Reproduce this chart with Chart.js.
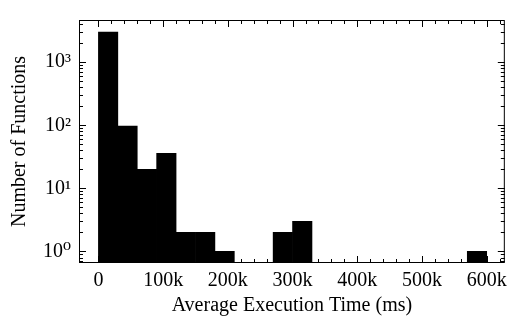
<!DOCTYPE html>
<html>
<head>
<meta charset="utf-8">
<script src="https://cdn.jsdelivr.net/npm/chart.js@4"></script>
<style>
  body { margin: 0; background: #fff; }
  #wrap { width: 513px; height: 321px; }
</style>
</head>
<body>
<div id="wrap"><canvas id="hist"></canvas></div>
<script>
// histogram bins (left edge, ms) and counts per bin; null = empty bin
const binLeft = [0, 30000, 60000, 90000, 120000, 150000, 180000, 210000, 240000, 270000,
  300000, 330000, 360000, 390000, 420000, 450000, 480000, 510000, 540000, 570000];
const binWidth = 30000;
const counts = [3000, 97, 20, 36, 2, 2, 1, null, null, 2,
  3, null, null, null, null, null, null, null, null, 1];
const xTicks = [0, 100000, 200000, 300000, 400000, 500000, 600000];
const yTicks = [1, 10, 100, 1000];
const sup = ["⁰", "¹", "²", "³"];

Chart.defaults.font.family = "'Liberation Serif', 'DejaVu Serif', serif";
Chart.defaults.color = "#000";

// frame with inward ticks on all four sides
const frameTicks = {
  id: "frameTicks",
  afterDraw(chart) {
    const { ctx, chartArea: a, scales } = chart;
    const x = scales.x, y = scales.y;
    ctx.save();
    ctx.strokeStyle = "#000";
    ctx.lineWidth = 1;
    ctx.beginPath();
    const vmark = (v, len) => {
      const px = Math.round(x.getPixelForValue(v)) + 0.5;
      ctx.moveTo(px, a.bottom); ctx.lineTo(px, a.bottom - len);
      ctx.moveTo(px, a.top); ctx.lineTo(px, a.top + len);
    };
    const hmark = (v, len) => {
      const py = Math.round(y.getPixelForValue(v)) + 0.5;
      ctx.moveTo(a.left, py); ctx.lineTo(a.left + len, py);
      ctx.moveTo(a.right, py); ctx.lineTo(a.right - len, py);
    };
    for (let v = 0; v <= x.max; v += 20000) {
      vmark(v, v % 100000 === 0 ? 7 : 4);
    }
    for (let d = 0.1; d < y.max; d *= 10) {
      for (let m = 1; m < 10; m++) {
        const v = d * m;
        if (v >= y.min && v <= y.max) hmark(v, m === 1 ? 7 : 4);
      }
    }
    ctx.stroke();
    ctx.strokeRect(a.left + 0.5, a.top + 0.5, a.right - a.left - 1, a.bottom - a.top - 1);
    ctx.restore();
  }
};

new Chart(document.getElementById("hist"), {
  type: "bar",
  data: {
    datasets: [{
      data: binLeft.map((b, i) => ({ x: b + binWidth / 2, y: counts[i] })),
      backgroundColor: "#000",
      borderWidth: 0,
      barPercentage: 1,
      categoryPercentage: 1
    }]
  },
  options: {
    responsive: true,
    maintainAspectRatio: false,
    animation: false,
    layout: { padding: { left: 0, right: 7, top: 1, bottom: 0 } },
    plugins: { legend: { display: false }, tooltip: { enabled: false } },
    scales: {
      x: {
        type: "linear",
        min: -30000,
        max: 628000,
        offset: false,
        grid: { display: false, drawTicks: false, offset: false },
        border: { display: false },
        afterBuildTicks: s => { s.ticks = xTicks.map(v => ({ value: v })); },
        afterFit: s => { s.height = 58; },
        ticks: {
          autoSkip: false,
          maxRotation: 0,
          padding: 6,
          font: { size: 20 },
          callback: v => (v === 0 ? "0" : v / 1000 + "k")
        },
        title: {
          display: true,
          text: "Average Execution Time (ms)",
          font: { size: 20 },
          padding: { top: 3, bottom: 3 }
        }
      },
      y: {
        type: "logarithmic",
        min: 0.655,
        max: 4670,
        grid: { display: false, drawTicks: false },
        border: { display: false },
        afterBuildTicks: s => { s.ticks = yTicks.map(v => ({ value: v })); },
        afterFit: s => { s.width = 79; },
        ticks: {
          autoSkip: false,
          padding: 8,
          font: { size: 20 },
          callback: v => "10" + sup[Math.round(Math.log10(v))]
        },
        title: {
          display: true,
          text: "Number of Functions",
          font: { size: 20 },
          padding: { top: 8, bottom: 0 }
        }
      }
    }
  },
  plugins: [frameTicks]
});
</script>
</body>
</html>
